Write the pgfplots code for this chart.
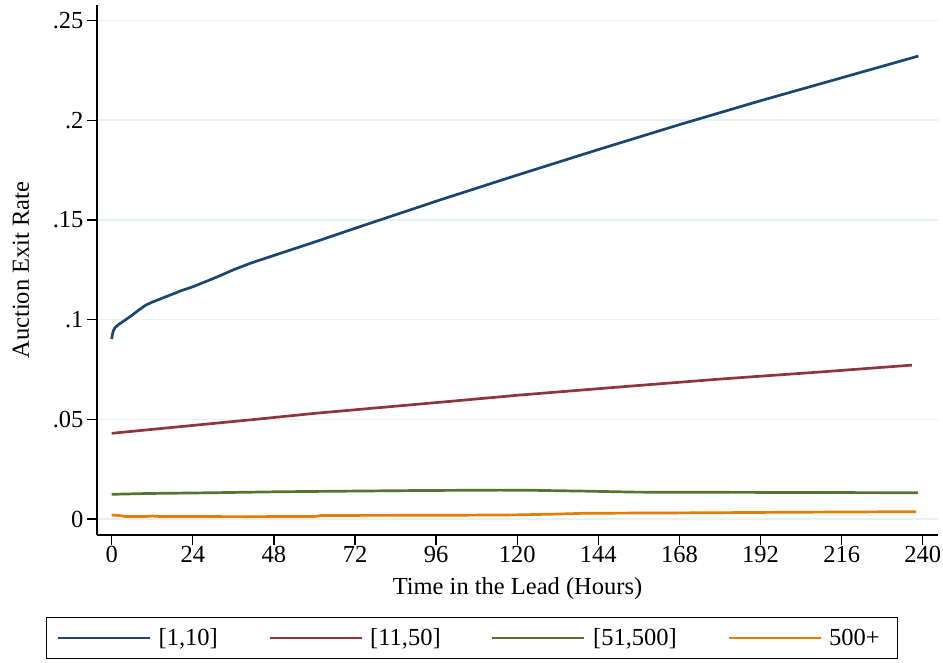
\documentclass[border=0pt]{standalone}
\usepackage{fontspec}
\setmainfont{Liberation Serif}
\usepackage{pgfplots}
\pgfplotsset{compat=1.18}
\definecolor{navyS}{RGB}{26,71,111}
\definecolor{maroonS}{RGB}{144,53,59}
\definecolor{forestS}{RGB}{85,117,47}
\definecolor{orangeS}{RGB}{227,126,0}
\definecolor{gridc}{RGB}{232,240,242}
\newcommand\chartfont{\fontsize{24.5}{29}\selectfont}
\begin{document}
\begin{tikzpicture}
\useasboundingbox (0pt,0pt) rectangle (943pt,662pt);
\begin{axis}[
  at={(97pt,127pt)}, anchor=south west,
  scale only axis, width=841pt, height=530pt,
  xmin=-4.35, xmax=244.5, ymin=-0.008, ymax=0.2578,
  axis x line*=bottom, axis y line*=left,
  axis line style={line width=1.3pt, black, -},
  xtick={0,24,...,240},
  ytick={0,0.05,0.1,0.15,0.2,0.25},
  yticklabels={0,.05,.1,.15,.2,.25},
  tick align=outside, major tick length=10pt,
  tick style={line width=1.3pt, black},
  ymajorgrids, grid style={line width=1.6pt, gridc},
  /pgf/number format/assume math mode=true,
  tick label style={font=\chartfont},
  x tick label style={yshift=2.5pt},
  legend columns=4,
  legend style={at={(0.4459,-0.1943)}, anchor=center, draw=black, line width=1.3pt,
    font=\chartfont, inner xsep=10.5pt, inner ysep=7.5pt,
    nodes={inner xsep=7.5pt, inner ysep=4pt},
    /tikz/every even column/.append style={column sep=43pt}},
  legend cell align=left,
  legend image code/.code={\draw[#1, line width=2.4pt] (0pt,0pt) -- (92pt,0pt);},
  every axis plot/.append style={line width=2.7pt, line join=round},
]
\addplot[navyS] coordinates {
(0,0.0903) (0.2,0.0925) (0.5,0.0945) (1,0.0960) (2,0.0975) (4,0.0998)
(6,0.1022) (8,0.1048) (10,0.1072) (12,0.1088) (15,0.1108) (18,0.1128)
(21,0.1148) (24,0.1165) (28,0.1192) (32,0.1220) (36,0.1250) (40.9,0.1282)
(48,0.1322) (60,0.1389) (72,0.1458) (96,0.1594) (120,0.1725) (144,0.1853)
(168,0.1978) (192,0.2098) (216,0.2213) (238.7,0.2322)
};
\addlegendentry{[1,10]}
\addplot[maroonS] coordinates {
(0,0.0430) (20,0.0463) (42,0.0499) (60,0.0530) (80,0.0560) (100,0.0590)
(120.8,0.0622) (150,0.0662) (180,0.0702) (210,0.0738) (236.8,0.0772)
};
\addlegendentry{[11,50]}
\addplot[forestS] coordinates {
(0,0.0124) (10,0.0128) (20,0.0130) (30,0.0132) (50,0.0137) (70,0.0140)
(90,0.0143) (115,0.0145) (125,0.0144) (140,0.0140) (155,0.0135)
(180,0.0134) (210,0.0133) (238.6,0.0132)
};
\addlegendentry{[51,500]}
\addplot[orangeS] coordinates {
(0,0.0020) (2,0.0018) (4,0.0013) (10,0.0013) (12,0.0015) (14,0.0013)
(40,0.0012) (60,0.0013) (62,0.0018) (100,0.0019) (120,0.0021)
(132,0.0025) (140,0.0029) (170,0.0031) (200,0.0034) (238,0.0037)
};
\addlegendentry{500+}
\end{axis}
\node[rotate=90, font=\chartfont] at (21pt,392pt) {Auction Exit Rate};
\node[anchor=base, font=\chartfont] at (517.5pt,67pt) {Time in the Lead (Hours)};
\end{tikzpicture}
\end{document}
